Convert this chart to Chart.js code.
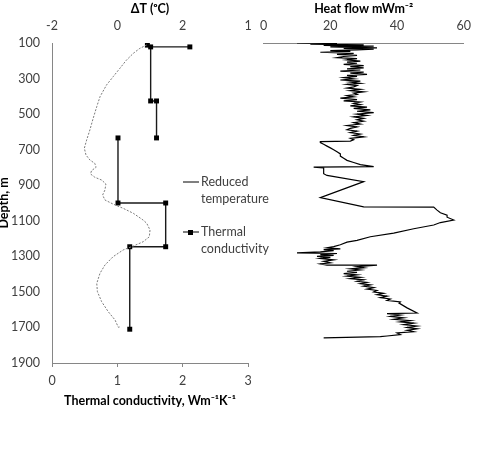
<!DOCTYPE html>
<html><head><meta charset="utf-8">
<script src="https://cdn.jsdelivr.net/npm/chart.js@4.4.1/dist/chart.umd.min.js"></script>
<style>
html,body{margin:0;padding:0;background:#fff;width:481px;height:452px;overflow:hidden;}
#c1{position:absolute;left:0;top:0;}
#c2{position:absolute;left:250px;top:0;}
</style></head><body>
<canvas id="c1" width="275" height="412"></canvas>
<canvas id="c2" width="231" height="370"></canvas>
<script>
// ---- tick labels ----
const depthTicks = [100,300,500,700,900,1100,1300,1500,1700,1900];
const conductivityTicks = [0,1,2,3];
const deltaTTicks = [-2,0,2,4];
const deltaTTickLabels = ["-2","0","2","1"];
const heatFlowTicks = [0,20,40,60];
const legendLabels = [["Reduced","temperature"],["Thermal","conductivity"]];

// ---- reduced temperature (ΔT, °C) vs depth (m) ----
const tempDepth = [111,130,158,196,242,290,336,402,458,524,589,646,692,730,758,777,799,818,837,855,871,893,927,955,983,1006,1030,1058,1096,1114,1152,1190,1218,1242,1264,1302,1349,1395,1452,1499,1555,1611,1658,1699,1696];
const tempDT = [0.90,0.69,0.49,0.28,0.08,-0.13,-0.33,-0.53,-0.63,-0.74,-0.84,-0.94,-1.01,-0.96,-0.84,-0.69,-0.65,-0.79,-0.82,-0.69,-0.48,-0.35,-0.38,-0.45,-0.38,-0.13,0.18,0.49,0.79,0.90,1.00,0.98,0.79,0.49,0.18,-0.13,-0.38,-0.53,-0.63,-0.61,-0.48,-0.28,-0.07,0.03,0.10];

// ---- thermal conductivity (W/m/K) vs depth (m); null = break ----
const tcDepth = [112,null,122,122,426,426,634,null,634,1000,1000,1246,1246,1710];
const tcValue = [1.46,null,2.11,1.51,1.51,1.60,1.60,null,1.01,1.01,1.74,1.74,1.19,1.19];

// ---- heat flow (mW/m2) vs depth (m) ----
const hfDepth = [100,103,106,110,113,118,122,127,131,134,139,143,147,152,158,164,170,176,182,188,195,202,208,214,220,227,233,240,246,252,258,264,270,276,282,288,295,302,308,314,320,327,333,340,347,354,361,368,375,382,389,396,403,410,418,425,432,440,447,454,461,468,476,484,492,500,508,516,524,532,540,548,556,564,572,580,588,596,604,612,620,628,636,644,652,655,660,670,680,690,700,712,724,736,748,760,772,784,795,798,802,815,835,845,880,970,1022,1023,1040,1055,1068,1080,1096,1110,1124,1145,1169,1190,1210,1220,1235,1245,1252,1258,1262,1268,1275,1281,1284,1290,1295,1300,1306,1312,1320,1328,1336,1342,1349,1350,1358,1364,1370,1377,1384,1390,1397,1404,1411,1418,1425,1432,1440,1447,1454,1461,1468,1476,1484,1492,1500,1508,1516,1524,1532,1540,1548,1556,1563,1590,1619,1622,1630,1638,1646,1654,1662,1669,1676,1684,1692,1700,1708,1716,1724,1731,1740,1748,1752,1759];
const hfValue = [10,22,14,30,18,33,20,34,24,33,28,20,26,17,27,22,28,24,22,28,25,29,25,28,24,30,26,30,25,29,23,30,26,31,25,28,24,27,23,29,26,29,25,28,27,25,29,26,30,27,28,25,27,23,28,24,29,27,29,26,31,27,32,28,33,28,31,27,30,28,30,27,29,25,28,26,25,28,26,29,27,30,26,27,26,17,17,18,19,20,21,22,23,23,24,25,27,29,33,15,18,18,18,19,30,17,30,51,52,53,55,55,57,53,51,45,39,32,28,25,23,21,19,23,18,21,17,10,22,17,21,16,20,17,21,18,20,17,19,34,28,30,26,29,25,28,24,28,25,29,26,30,28,31,29,32,30,33,31,34,33,36,34,37,35,38,37,41,40.6,43,46,37,41,38,42,39,44,41,45,42,46,43,46,43,45,40,41,37,35,18];

const FONT = "Lato, 'Open Sans', sans-serif";
const tickFont = {family: FONT, size: 12.5};
const titleFont = {family: FONT, size: 12.5, weight: 'bold'};
const AXIS = '#868686';
const TXT = '#404040';

const toPts = (xs, ys) => xs.map((x, i) => ({x: x, y: ys[i]}));
const fixTicks = arr => (s => { s.ticks = arr.map(v => ({value: v})); });
const plain = v => String(v);

const legendPlugin = {
  id: 'sideLegend',
  afterDraw(chart) {
    const ctx = chart.ctx, a = chart.chartArea;
    const x0 = a.right - 65;
    const rows = [a.top + 139, a.top + 189];
    ctx.save();
    ctx.font = "12.5px " + FONT;
    ctx.textBaseline = 'middle';
    rows.forEach((y, i) => {
      ctx.strokeStyle = '#000';
      ctx.lineWidth = 1;
      ctx.beginPath(); ctx.moveTo(x0, y); ctx.lineTo(x0 + 16, y); ctx.stroke();
      if (i === 1) { ctx.fillStyle = '#000'; ctx.fillRect(x0 + 5, y - 2, 5, 5); }
      ctx.fillStyle = TXT;
      legendLabels[i].forEach((t, j) => ctx.fillText(t, x0 + 18, y + j * 16.5));
    });
    ctx.restore();
  }
};

new Chart(document.getElementById('c1'), {
  type: 'scatter',
  data: { datasets: [
    { label: 'Reduced temperature', data: toPts(tempDT, tempDepth), xAxisID: 'xT', yAxisID: 'y',
      showLine: true, borderColor: '#7a7a7a', borderWidth: 1, borderDash: [2, 1.5], pointRadius: 0, fill: false },
    { label: 'Thermal conductivity', data: toPts(tcValue, tcDepth), xAxisID: 'x', yAxisID: 'y',
      showLine: true, spanGaps: false, borderColor: '#1a1a1a', borderWidth: 1.4,
      pointStyle: 'rect', pointRadius: 3.5, pointBackgroundColor: '#000', pointBorderColor: '#000', pointBorderWidth: 0 }
  ]},
  options: {
    responsive: false, animation: false, events: [],
    layout: { padding: {left: 0, right: 27, top: 0, bottom: 0} },
    plugins: { legend: {display: false}, tooltip: {enabled: false} },
    scales: {
      y: { type: 'linear', position: 'left', reverse: true, min: 100, max: 1900,
        afterBuildTicks: fixTicks(depthTicks), afterFit: s => { s.width = 52; },
        grid: {display: false, drawTicks: false}, border: {display: true, color: AXIS, width: 1},
        ticks: {padding: 12, font: tickFont, color: TXT, callback: plain},
        title: {display: true, text: 'Depth, m', font: titleFont, color: '#000', padding: {top: -4, bottom: 0}} },
      x: { type: 'linear', position: 'bottom', min: 0, max: 3,
        afterBuildTicks: fixTicks(conductivityTicks), afterFit: s => { s.height = 49; },
        grid: {display: true, drawOnChartArea: false, drawTicks: true, tickLength: 4, color: AXIS},
        border: {display: true, color: AXIS, width: 1},
        ticks: {padding: 6, font: tickFont, color: TXT, callback: plain},
        title: {display: true, text: 'Thermal conductivity, Wm⁻¹K⁻¹', font: titleFont, color: '#000', padding: {top: 0, bottom: 4}} },
      xT: { type: 'linear', position: 'top', min: -2, max: 4,
        afterBuildTicks: fixTicks(deltaTTicks), afterFit: s => { s.height = 43; },
        grid: {display: false, drawTicks: false}, border: {display: false},
        ticks: {padding: 10, font: tickFont, color: TXT, callback: (v, i) => deltaTTickLabels[i]},
        title: {display: true, text: 'ΔT (ᵒC)', font: titleFont, color: '#000', padding: {top: 1, bottom: 0}} }
    }
  },
  plugins: [legendPlugin]
});

new Chart(document.getElementById('c2'), {
  type: 'scatter',
  data: { datasets: [
    { label: 'Heat flow', data: toPts(hfValue, hfDepth), showLine: true, borderColor: '#000', borderWidth: 1.2, pointRadius: 0, fill: false }
  ]},
  options: {
    responsive: false, animation: false, events: [],
    layout: { padding: {left: 13, right: 8, top: 0, bottom: 7} },
    plugins: { legend: {display: false}, tooltip: {enabled: false} },
    scales: {
      y: { type: 'linear', display: false, reverse: true, min: 100, max: 1900 },
      x: { type: 'linear', position: 'top', min: 0, max: 60,
        afterBuildTicks: fixTicks(heatFlowTicks), afterFit: s => { s.height = 43; },
        grid: {display: false, drawTicks: false}, border: {display: true, color: AXIS, width: 1},
        ticks: {padding: 10, font: tickFont, color: TXT, callback: plain},
        title: {display: true, text: 'Heat flow mWm⁻²', font: titleFont, color: '#000', padding: {top: 1, bottom: 0}} }
    }
  }
});
</script>
</body></html>
